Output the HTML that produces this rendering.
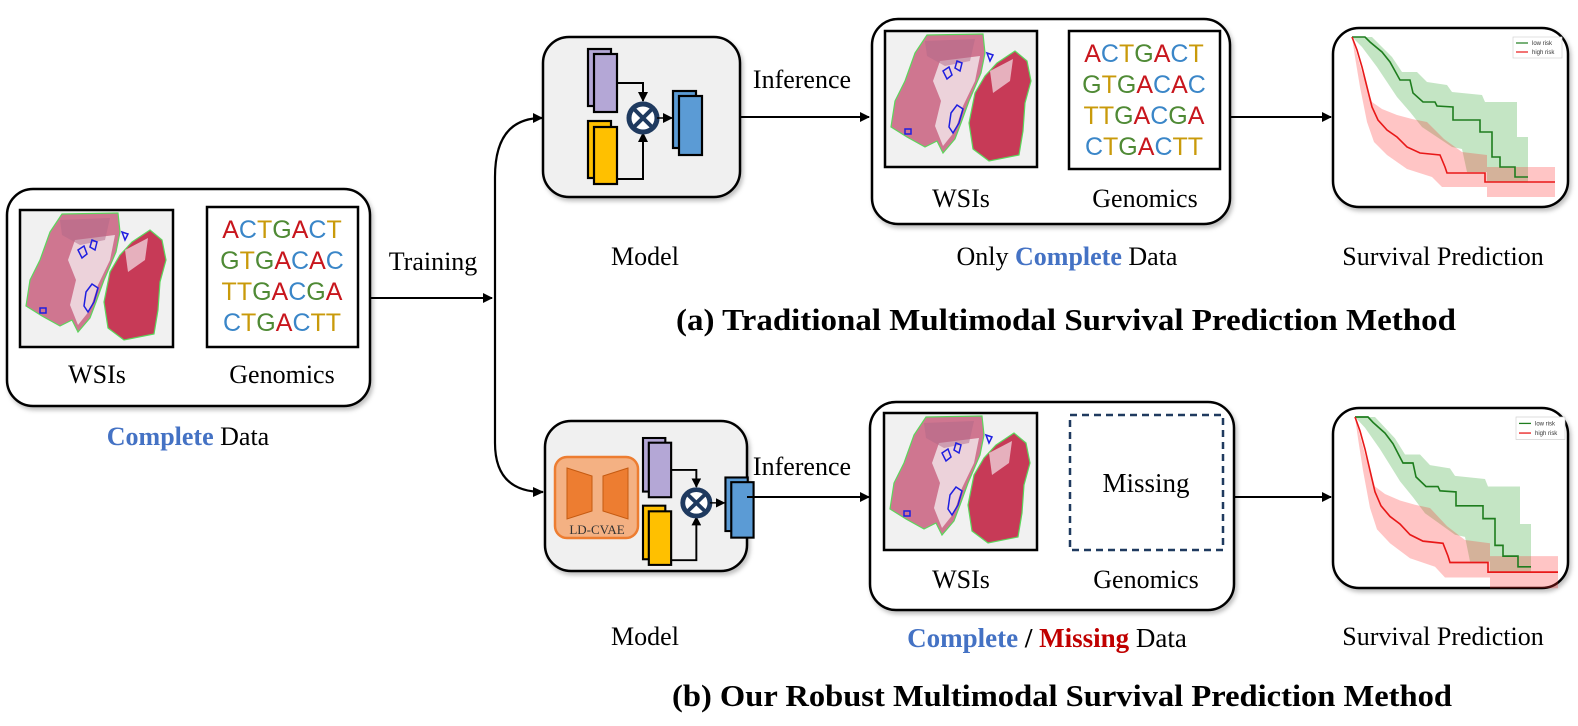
<!DOCTYPE html>
<html><head><meta charset="utf-8"><style>
html,body{margin:0;padding:0;background:#fff;}
svg{display:block;}
text{font-family:"Liberation Serif",serif;}
text.s{font-family:"Liberation Sans",sans-serif;}
</style></head><body>
<svg width="1578" height="726" viewBox="0 0 1578 726" xmlns="http://www.w3.org/2000/svg">
<defs>
<marker id="ah" markerWidth="10" markerHeight="10" refX="9" refY="5" orient="auto" markerUnits="userSpaceOnUse">
<path d="M0,0 L10,5 L0,10 z" fill="#000"/></marker>
<filter id="sh" x="-5%" y="-5%" width="110%" height="115%"><feDropShadow dx="2" dy="3" stdDeviation="2" flood-color="#000" flood-opacity="0.25"/></filter>
<g id="wsi">
<rect x="0" y="0" width="153" height="137" fill="#f1f1f1"/>
<path d="M42,4 L98,3 L100,22 L96,42 L84,70 L76,92 L70,108 L58,122 L52,110 L40,116 L22,106 L6,96 L10,70 L20,50 L30,22 Z" fill="#cf7690" stroke="#5cd65c" stroke-width="1.2"/>
<path d="M55,30 L95,25 L90,50 L78,75 L70,100 L58,115 L50,95 L56,70 L48,50 Z" fill="#ecd2da"/>
<path d="M40,10 L90,8 L85,30 L60,35 L42,25Z" fill="#b06888" opacity="0.5"/>
<path d="M112,32 L130,20 L142,30 L146,50 L140,72 L138,100 L134,124 L104,130 L88,118 L84,92 L90,62 L100,45 Z" fill="#c73a57" stroke="#5cd65c" stroke-width="1.2"/>
<path d="M105,40 L128,28 L125,50 L108,62Z" fill="#e6b0bd"/>
<path d="M58,40 l6,-4 l3,8 l-5,4z M72,30 l5,2 l-2,8 l-5,-3z M66,82 l6,-8 l6,4 l-4,14 l-6,10 l-4,-6z M20,98 l6,0 l0,5 l-6,0z M102,22 l6,2 l-3,6z" fill="none" stroke="#1f1fe0" stroke-width="1.5"/>
</g>
<g id="gen" font-size="25" text-anchor="middle">
<text class="s" x="76" y="31"><tspan fill="#c8161d">A</tspan><tspan fill="#3a86c8">C</tspan><tspan fill="#c99a0a">T</tspan><tspan fill="#4f8a35">G</tspan><tspan fill="#c8161d">A</tspan><tspan fill="#3a86c8">C</tspan><tspan fill="#c99a0a">T</tspan></text>
<text class="s" x="76" y="62"><tspan fill="#4f8a35">G</tspan><tspan fill="#c99a0a">T</tspan><tspan fill="#4f8a35">G</tspan><tspan fill="#c8161d">A</tspan><tspan fill="#3a86c8">C</tspan><tspan fill="#c8161d">A</tspan><tspan fill="#3a86c8">C</tspan></text>
<text class="s" x="76" y="93"><tspan fill="#c99a0a">TT</tspan><tspan fill="#4f8a35">G</tspan><tspan fill="#c8161d">A</tspan><tspan fill="#3a86c8">C</tspan><tspan fill="#4f8a35">G</tspan><tspan fill="#c8161d">A</tspan></text>
<text class="s" x="76" y="124"><tspan fill="#3a86c8">C</tspan><tspan fill="#c99a0a">T</tspan><tspan fill="#4f8a35">G</tspan><tspan fill="#c8161d">A</tspan><tspan fill="#3a86c8">C</tspan><tspan fill="#c99a0a">TT</tspan></text>
</g>
<g id="km">
<path d="M0,0 L20,0 L40,20 L50,35 L65,35 L75,45 L95,48 L100,55 L130,58 L133,65 L165,65 L165,100 L176,100 L176,145 L135,145 L135,135 L115,135 L110,112 L100,110 L85,100 L70,90 L58,75 L45,60 L35,45 L25,30 L10,10 Z" fill="#2ca02c" opacity="0.28"/>
<path d="M0,0 L10,35 L20,65 L30,72 L45,78 L60,82 L75,85 L92,102 L110,115 L135,118 L135,130 L203,130 L203,160 L135,160 L135,150 L90,150 L80,140 L55,132 L45,125 L35,118 L22,105 L15,85 L8,50 L3,20 Z" fill="#ff3030" opacity="0.28"/>
<polyline points="0,0 13,0 18,5 30,15 38,25 48,43 58,43 61,56 71,65 83,65 85,69 101,70 101,83 128,83 128,95 140,95 140,120 148,120 148,130 163,130 163,140 176,140" fill="none" stroke="#1e7d1e" stroke-width="1.6"/>
<polyline points="0,0 5,13 10,30 15,50 20,70 26,83 35,93 45,100 55,110 68,116 88,118 93,130 95,136 133,136 133,145 203,145" fill="none" stroke="#e81818" stroke-width="1.6"/>
<rect x="161" y="0" width="49" height="21" fill="#fff" stroke="#ccc" stroke-width="0.6"/>
<line x1="164" y1="6" x2="176" y2="6" stroke="#1e7d1e" stroke-width="1.2"/>
<line x1="164" y1="15" x2="176" y2="15" stroke="#e81818" stroke-width="1.2"/>
<text x="180" y="8" class="s" font-size="6" fill="#333">low risk</text>
<text x="180" y="17" class="s" font-size="6" fill="#333">high risk</text>
</g>
<g id="fus">
<rect x="0" y="0" width="23" height="57" fill="#b4a7d6" stroke="#000" stroke-width="2.2"/>
<rect x="6" y="5" width="23" height="58" fill="#b4a7d6" stroke="#000" stroke-width="2.2"/>
<rect x="0" y="72" width="23" height="57" fill="#ffc000" stroke="#000" stroke-width="2.2"/>
<rect x="6" y="78" width="23" height="57" fill="#ffc000" stroke="#000" stroke-width="2.2"/>
<path d="M29,34 H55 V52" fill="none" stroke="#000" stroke-width="2" marker-end="url(#ah)"/>
<path d="M29,130 H55 V84" fill="none" stroke="#000" stroke-width="2" marker-end="url(#ah)"/>
<circle cx="55" cy="69" r="14" fill="#fff" stroke="#1f3a5f" stroke-width="5"/>
<path d="M46,60 L64,78 M64,60 L46,78" stroke="#1f3a5f" stroke-width="4"/>
<path d="M69,69 H84" stroke="#000" stroke-width="1.5" marker-end="url(#ah)"/>
<rect x="85" y="42" width="23" height="57" fill="#5b9bd5" stroke="#000" stroke-width="2.2"/>
<rect x="91" y="47" width="23" height="59" fill="#5b9bd5" stroke="#000" stroke-width="2.2"/>
</g>
</defs>

<rect x="7" y="189" width="363" height="217" rx="26" fill="#fff" stroke="#000" stroke-width="2.5" filter="url(#sh)"/>
<use href="#wsi" x="20" y="210"/>
<rect x="20" y="210" width="153" height="137" fill="none" stroke="#000" stroke-width="2.5"/>
<rect x="207" y="207" width="151" height="140" fill="#fff" stroke="#000" stroke-width="2.5"/>
<use href="#gen" x="206" y="207"/>
<text x="97" y="383" font-size="26" text-anchor="middle">WSIs</text>
<text x="282" y="383" font-size="26" text-anchor="middle">Genomics</text>
<text x="188" y="445" font-size="26" text-anchor="middle"><tspan fill="#4472c4" font-weight="bold">Complete</tspan> Data</text>

<line x1="370" y1="298" x2="492" y2="298" stroke="#000" stroke-width="2" marker-end="url(#ah)"/>
<text x="433" y="270" font-size="26" text-anchor="middle">Training</text>
<path d="M542,118 Q495,118 495,177 V443 Q495,492 543,492" fill="none" stroke="#000" stroke-width="2.2"/>
<path d="M533,113 L543,118 L533,123z M533,487 L544,492 L533,497z" fill="#000"/>

<rect x="543" y="37" width="197" height="160" rx="26" fill="#f0f0f0" stroke="#000" stroke-width="2.5" filter="url(#sh)"/>
<use href="#fus" x="588" y="49"/>
<text x="645" y="265" font-size="26" text-anchor="middle">Model</text>
<line x1="740" y1="117" x2="869" y2="117" stroke="#000" stroke-width="2" marker-end="url(#ah)"/>
<text x="802" y="88" font-size="26" text-anchor="middle">Inference</text>

<rect x="872" y="19" width="358" height="205" rx="26" fill="#fff" stroke="#000" stroke-width="2.5" filter="url(#sh)"/>
<use href="#wsi" x="885" y="31"/>
<rect x="885" y="31" width="152" height="136" fill="none" stroke="#000" stroke-width="2.5"/>
<rect x="1069" y="31" width="151" height="138" fill="#fff" stroke="#000" stroke-width="2.5"/>
<use href="#gen" x="1068" y="31"/>
<text x="961" y="207" font-size="26" text-anchor="middle">WSIs</text>
<text x="1145" y="207" font-size="26" text-anchor="middle">Genomics</text>
<text x="1067" y="265" font-size="26" text-anchor="middle">Only <tspan fill="#4472c4" font-weight="bold">Complete</tspan> Data</text>
<line x1="1230" y1="117" x2="1331" y2="117" stroke="#000" stroke-width="2" marker-end="url(#ah)"/>

<rect x="1333" y="28" width="235" height="179" rx="26" fill="#fff" stroke="#000" stroke-width="2.5" filter="url(#sh)"/>
<use href="#km" x="1352" y="37"/>
<text x="1443" y="265" font-size="26" text-anchor="middle">Survival Prediction</text>

<text x="676" y="330" font-size="31" font-weight="bold" textLength="780" lengthAdjust="spacingAndGlyphs">(a) Traditional Multimodal Survival Prediction Method</text>

<rect x="545" y="421" width="202" height="150" rx="26" fill="#f0f0f0" stroke="#000" stroke-width="2.5" filter="url(#sh)"/>
<rect x="555" y="457" width="83" height="81" rx="12" fill="#f4b183" stroke="#ed7d31" stroke-width="2.5"/>
<path d="M567,468 L592,476 L592,511 L567,519 Z" fill="#ed7d31" stroke="#c55a11" stroke-width="1"/>
<path d="M628,468 L603,476 L603,511 L628,519 Z" fill="#ed7d31" stroke="#c55a11" stroke-width="1"/>
<text x="597" y="534" font-size="13" text-anchor="middle" fill="#333">LD-CVAE</text>
<g transform="translate(643,438) scale(0.97,0.94)"><use href="#fus"/></g>
<line x1="747" y1="497" x2="869" y2="497" stroke="#000" stroke-width="2" marker-end="url(#ah)"/>
<text x="802" y="475" font-size="26" text-anchor="middle">Inference</text>
<text x="645" y="645" font-size="26" text-anchor="middle">Model</text>

<rect x="870" y="402" width="364" height="208" rx="26" fill="#fff" stroke="#000" stroke-width="2.5" filter="url(#sh)"/>
<use href="#wsi" x="884" y="413"/>
<rect x="884" y="413" width="153" height="137" fill="none" stroke="#000" stroke-width="2.5"/>
<rect x="1070" y="415" width="153" height="135" fill="#fff" stroke="#1f3a5f" stroke-width="2.5" stroke-dasharray="7,5"/>
<text x="1146" y="492" font-size="27" text-anchor="middle">Missing</text>
<text x="961" y="588" font-size="26" text-anchor="middle">WSIs</text>
<text x="1146" y="588" font-size="26" text-anchor="middle">Genomics</text>
<text x="1047" y="647" font-size="27" text-anchor="middle" font-weight="bold"><tspan fill="#4472c4">Complete</tspan> / <tspan fill="#c00000">Missing</tspan> <tspan font-weight="normal">Data</tspan></text>
<line x1="1234" y1="497" x2="1331" y2="497" stroke="#000" stroke-width="2" marker-end="url(#ah)"/>

<rect x="1333" y="408" width="235" height="180" rx="26" fill="#fff" stroke="#000" stroke-width="2.5" filter="url(#sh)"/>
<g transform="translate(1355,417) scale(1,1.07)"><use href="#km"/></g>
<text x="1443" y="645" font-size="26" text-anchor="middle">Survival Prediction</text>

<text x="672" y="706" font-size="31" font-weight="bold" textLength="780" lengthAdjust="spacingAndGlyphs">(b) Our Robust Multimodal Survival Prediction Method</text>
</svg>
</body></html>
